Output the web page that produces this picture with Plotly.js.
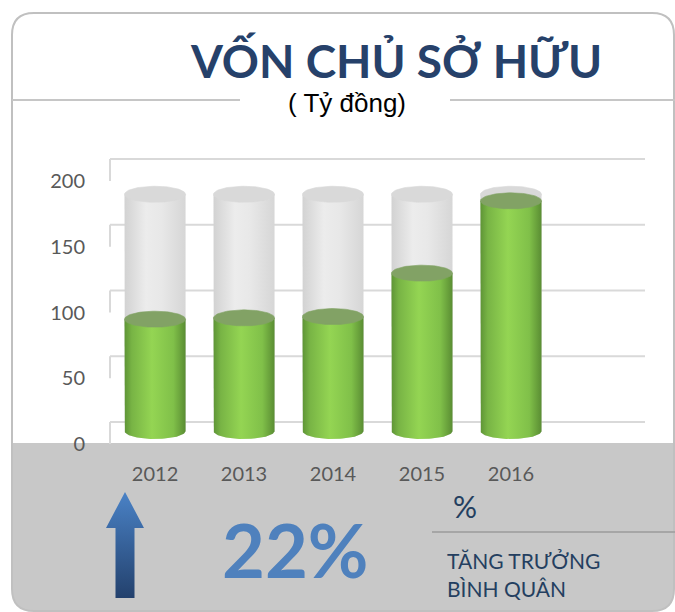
<!DOCTYPE html>
<html>
<head>
<meta charset="utf-8">
<script src="https://cdn.plot.ly/plotly-3.0.1.min.js"></script>
<style>html,body{margin:0;padding:0;background:#fff;}#chart{width:675px;height:612px;}</style>
</head>
<body>
<div id="chart"></div>
<script>
// ---- data ----
const years = ['2012', '2013', '2014', '2015', '2016'];
const equity = [85, 86, 87, 120, 175];          // Vốn chủ sở hữu (tỷ đồng)
const capacity = [180, 180, 180, 180, 180];     // grey background cylinders
const yTicks = [0, 50, 100, 150, 200];
const growthText = '22%';

// ---- helpers ----
const W = 675, H = 612;
const px = x => x / W;
const py = y => 1 - y / H;

const HW = 0.343;   // cylinder half width (x units)
const RY = 6.1;     // ellipse half height (y units)
const N = 40;

function cylBody(i, v, scale, yaxis) {
  const xs = [], ys = [];
  xs.push(i - HW); ys.push(v);
  for (let k = 0; k <= N; k++) {
    const t = Math.PI + Math.PI * k / N;
    xs.push(i + HW * Math.cos(t)); ys.push(RY * Math.sin(t));
  }
  xs.push(i + HW); ys.push(v);
  xs.push(i - HW); ys.push(v);
  return {x: xs, y: ys, xaxis: 'x', yaxis: yaxis, type: 'scatter', mode: 'lines',
    fill: 'toself', line: {width: 0, color: 'rgba(0,0,0,0)'},
    fillgradient: {type: 'horizontal', colorscale: scale},
    hoverinfo: 'skip', showlegend: false};
}
function cylTop(i, v, color, yaxis) {
  const xs = [], ys = [];
  for (let k = 0; k <= 2 * N; k++) {
    const t = 2 * Math.PI * k / (2 * N);
    xs.push(i + HW * Math.cos(t)); ys.push(v + RY * Math.sin(t));
  }
  return {x: xs, y: ys, xaxis: 'x', yaxis: yaxis, type: 'scatter', mode: 'lines',
    fill: 'toself', fillcolor: color, line: {width: 0.6, color: color},
    hoverinfo: 'skip', showlegend: false};
}

const greyScale = [[0, '#d2d2d2'], [0.35, '#ececec'], [0.6, '#e8e8e8'], [1, '#d6d6d6']];
const greenScale = [[0, '#5e9436'], [0.12, '#78b445'], [0.45, '#94d553'], [0.8, '#80c049'], [1, '#5a8d33']];

const traces = [];
capacity.forEach((v, i) => { traces.push(cylBody(i, v, greyScale, 'y2')); traces.push(cylTop(i, v, '#d9d9d9', 'y2')); });
equity.forEach((v, i) => { traces.push(cylBody(i, v, greenScale, 'y2')); traces.push(cylTop(i, v, '#82a265', 'y2')); });

// data labels
traces.push({x: years.map((_, i) => i), y: equity.map(v => v / 2), xaxis: 'x', yaxis: 'y',
  type: 'scatter', mode: 'text', text: equity.map(String),
  textfont: {family: 'Lato, sans-serif', size: 22, color: '#000'},
  hoverinfo: 'skip', showlegend: false});

// arrow (decoration, pixel axes)
traces.push({x: [125, 144, 134.5, 134.5, 115.5, 115.5, 106, 125],
  y: [492, 528, 528, 598, 598, 528, 528, 492], xaxis: 'x3', yaxis: 'y3',
  type: 'scatter', mode: 'lines', fill: 'toself', line: {width: 0, color: 'rgba(0,0,0,0)'},
  fillgradient: {type: 'vertical', colorscale: [[0, '#23416d'], [1, '#4a82c6']]},
  hoverinfo: 'skip', showlegend: false});

// ---- shapes ----
const shapes = [];
const R = 22;
shapes.push({type: 'path', xref: 'paper', yref: 'paper', layer: 'below',
  path: `M ${px(12)} ${py(443)} L ${px(674)} ${py(443)} L ${px(674)} ${py(611 - R)} Q ${px(674)} ${py(611)} ${px(674 - R)} ${py(611)} L ${px(12 + R)} ${py(611)} Q ${px(12)} ${py(611)} ${px(12)} ${py(611 - R)} Z`,
  fillcolor: '#c8c8c8', line: {width: 0}});
shapes.push({type: 'path', xref: 'paper', yref: 'paper', layer: 'below',
  path: `M ${px(12 + R)} ${py(13)} L ${px(674 - R)} ${py(13)} Q ${px(674)} ${py(13)} ${px(674)} ${py(13 + R)} L ${px(674)} ${py(611 - R)} Q ${px(674)} ${py(611)} ${px(674 - R)} ${py(611)} L ${px(12 + R)} ${py(611)} Q ${px(12)} ${py(611)} ${px(12)} ${py(611 - R)} L ${px(12)} ${py(13 + R)} Q ${px(12)} ${py(13)} ${px(12 + R)} ${py(13)} Z`,
  fillcolor: 'rgba(0,0,0,0)', line: {width: 2, color: '#c0c0c0'}});
shapes.push({type: 'line', xref: 'paper', yref: 'paper', x0: px(12), x1: px(240), y0: py(100), y1: py(100), line: {color: '#c6c6c6', width: 2}});
shapes.push({type: 'line', xref: 'paper', yref: 'paper', x0: px(450), x1: px(675), y0: py(100), y1: py(100), line: {color: '#c6c6c6', width: 2}});
shapes.push({type: 'line', xref: 'paper', yref: 'paper', x0: px(432), x1: px(675), y0: py(532), y1: py(532), line: {color: '#a6a6a6', width: 2}});
const DEPTH = 16.7;
yTicks.forEach(t => {
  shapes.push({type: 'line', xref: 'paper', yref: 'y', layer: 'below', x0: px(110), x1: px(645), y0: t + DEPTH, y1: t + DEPTH, line: {color: '#d9d9d9', width: 2}});
  shapes.push({type: 'line', xref: 'paper', yref: 'y', layer: 'below', x0: px(110), x1: px(110), y0: t + DEPTH, y1: t, line: {color: '#d9d9d9', width: 2}});
});

// ---- annotations ----
const ann = [
  {text: '<b>VỐN CHỦ SỞ HỮU</b>', x: px(396), y: py(60), font: {family: 'Lato, sans-serif', size: 46, color: '#26416a'}},
  {text: '( Tỷ đồng)', x: px(347), y: py(103), font: {family: 'Liberation Sans, Arial, sans-serif', size: 26, color: '#000'}},
  {text: '<b>' + growthText + '</b>', x: px(295), y: py(549), font: {family: 'Lato, sans-serif', size: 74, color: '#4f81bd'}},
  {text: '%', x: px(465), y: py(506), font: {family: 'Lato, sans-serif', size: 30, color: '#243f60'}},
  {text: 'TĂNG TRƯỞNG', x: px(445), y: py(560), xanchor: 'left', font: {family: 'Lato, sans-serif', size: 21, color: '#243f60'}},
  {text: 'BÌNH QUÂN', x: px(445), y: py(588), xanchor: 'left', font: {family: 'Lato, sans-serif', size: 21, color: '#243f60'}}
].map(a => Object.assign({xref: 'paper', yref: 'paper', showarrow: false, xanchor: 'center', yanchor: 'middle'}, a));

const yTop = 314 / 1.315;
const layout = {
  width: W, height: H,
  margin: {l: 0, r: 0, t: 0, b: 0},
  paper_bgcolor: '#ffffff', plot_bgcolor: 'rgba(0,0,0,0)',
  showlegend: false,
  xaxis: {domain: [px(110), px(645)], range: [-0.506, 5.506], tickvals: years.map((_, i) => i), ticktext: years,
    ticks: 'outside', ticklen: 12, tickcolor: 'rgba(0,0,0,0)', showgrid: false, zeroline: false, showline: false,
    tickfont: {family: 'Lato, sans-serif', size: 20, color: '#595959'}, fixedrange: true},
  yaxis: {domain: [py(444), py(130)], range: [0, yTop], tickvals: yTicks,
    ticks: 'outside', ticklen: 20, tickcolor: 'rgba(0,0,0,0)', showgrid: false, zeroline: false, showline: false,
    tickfont: {family: 'Lato, sans-serif', size: 20, color: '#595959'}, fixedrange: true},
  yaxis2: {overlaying: 'y', range: [-9.9, yTop - 9.9], visible: false, fixedrange: true},
  xaxis3: {domain: [0, 1], range: [0, W], visible: false, anchor: 'y3', fixedrange: true},
  yaxis3: {domain: [0, 1], range: [H, 0], visible: false, anchor: 'x3', fixedrange: true},
  shapes: shapes,
  annotations: ann
};

Plotly.newPlot('chart', traces, layout, {displayModeBar: false, staticPlot: true});
</script>
</body>
</html>
